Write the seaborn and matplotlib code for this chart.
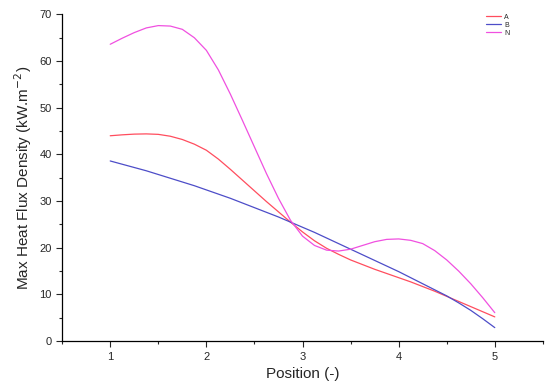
import matplotlib
matplotlib.use('Agg')
import matplotlib.pyplot as plt
from matplotlib.ticker import MultipleLocator
import pandas as pd
import seaborn as sns

# values at 0.125 steps
position = [1.0, 1.125, 1.25, 1.375, 1.5, 1.625, 1.75, 1.875, 2.0,
            2.125, 2.25, 2.375, 2.5, 2.625, 2.75, 2.875, 3.0,
            3.125, 3.25, 3.375, 3.5, 3.625, 3.75, 3.875, 4.0,
            4.125, 4.25, 4.375, 4.5, 4.625, 4.75, 4.875, 5.0]
flux_A = [44.0, 44.2, 44.35, 44.4, 44.3, 43.9, 43.2, 42.2, 40.9,
          39.0, 36.8, 34.5, 32.2, 29.9, 27.7, 25.5, 23.4,
          21.5, 19.9, 18.6, 17.4, 16.4, 15.4, 14.5, 13.6,
          12.7, 11.7, 10.7, 9.6, 8.5, 7.4, 6.3, 5.2]
flux_B = [38.6, 37.9, 37.2, 36.5, 35.7, 34.9, 34.1, 33.3, 32.4,
          31.5, 30.6, 29.6, 28.6, 27.6, 26.6, 25.5, 24.4,
          23.3, 22.1, 20.9, 19.7, 18.5, 17.3, 16.1, 14.9,
          13.6, 12.3, 11.0, 9.7, 8.2, 6.6, 4.8, 2.9]
flux_N = [63.6, 64.9, 66.1, 67.1, 67.6, 67.5, 66.8, 65.0, 62.3,
          58.1, 52.9, 47.3, 41.6, 35.9, 30.6, 25.9, 22.5,
          20.5, 19.5, 19.3, 19.7, 20.5, 21.3, 21.8, 21.9,
          21.6, 20.9, 19.4, 17.4, 15.0, 12.3, 9.3, 6.1]

df = pd.concat([
    pd.DataFrame({'Position': position, 'Flux': flux_A, 'Series': 'A'}),
    pd.DataFrame({'Position': position, 'Flux': flux_B, 'Series': 'B'}),
    pd.DataFrame({'Position': position, 'Flux': flux_N, 'Series': 'N'}),
])

sns.set_style('ticks')
plt.rcParams['font.family'] = ['Liberation Sans', 'DejaVu Sans']

fig = plt.figure(figsize=(5.5, 3.89), dpi=100)
ax = fig.add_axes([0.113, 0.123, 0.874, 0.84])
sns.lineplot(data=df, x='Position', y='Flux', hue='Series',
             palette={'A': '#ff4d5e', 'B': '#4d4dc8', 'N': '#f050e0'},
             linewidth=0.9, ax=ax)

ax.set_xlim(0.5, 5.5)
ax.set_ylim(0, 70)
ax.xaxis.set_major_locator(MultipleLocator(1))
ax.xaxis.set_minor_locator(MultipleLocator(0.5))
ax.yaxis.set_major_locator(MultipleLocator(10))
ax.yaxis.set_minor_locator(MultipleLocator(5))
ax.tick_params(which='major', length=4, width=0.8, labelsize=8, direction='out')
ax.tick_params(which='minor', length=2.5, width=0.8, direction='out')
sns.despine(ax=ax)
for s in ['left', 'bottom']:
    ax.spines[s].set_linewidth(0.9)
    ax.spines[s].set_color('black')

ax.set_xlabel('Position (-)', fontsize=11)
ax.set_ylabel('Max Heat Flux Density (kW.m$^{-2}$)', fontsize=11)

ax.legend(title=None, frameon=False, fontsize=5, loc='upper left',
          bbox_to_anchor=(0.884, 0.965), bbox_transform=fig.transFigure,
          borderpad=0, borderaxespad=0, handlelength=2.2,
          handletextpad=0.4, labelspacing=0.15)

plt.savefig('out.png', dpi=100)
